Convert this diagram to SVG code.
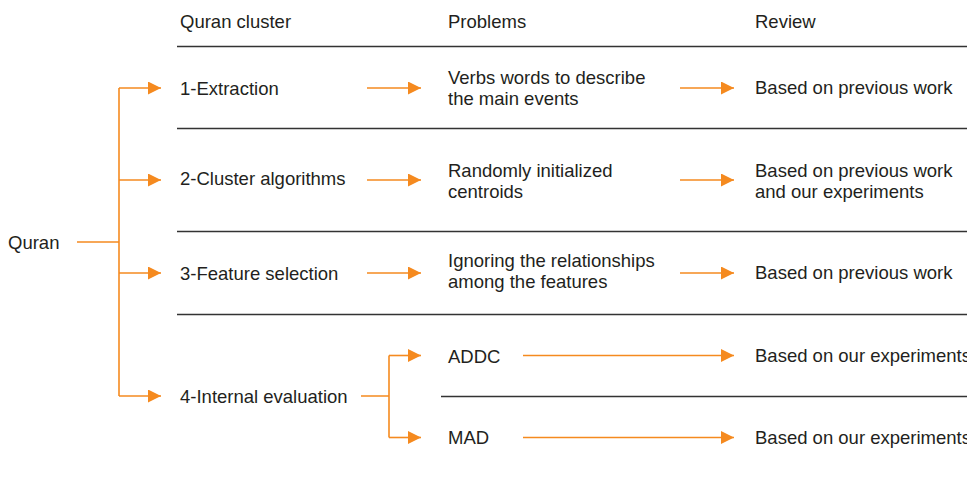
<svg xmlns="http://www.w3.org/2000/svg" width="967" height="477" viewBox="0 0 967 477">
<style>
text{font-family:"Liberation Sans",Arial,sans-serif;font-size:18.5px;fill:#231f20}
.rule{stroke:#333;stroke-width:1.6;fill:none}
.conn{stroke:#f58a1f;stroke-width:1.6;fill:none}
.arr{marker-end:url(#ah)}
</style>
<defs>
<marker id="ah" markerUnits="userSpaceOnUse" markerWidth="14" markerHeight="14" refX="13" refY="6.5" orient="auto">
<path d="M0,0 L13,6.5 L0,13 z" fill="#f58a1f"/>
</marker>
</defs>
<rect width="967" height="477" fill="#fff"/>
<g id="header">
<text x="180" y="28">Quran cluster</text>
<text x="448" y="28">Problems</text>
<text x="755" y="28">Review</text>
</g>
<g id="rules">
<line class="rule" x1="177" y1="46.5" x2="967" y2="46.5"/>
<line class="rule" x1="177" y1="128.5" x2="967" y2="128.5"/>
<line class="rule" x1="177" y1="231.5" x2="967" y2="231.5"/>
<line class="rule" x1="177" y1="314.5" x2="967" y2="314.5"/>
<line class="rule" x1="441" y1="396.5" x2="967" y2="396.5"/>
</g>
<g id="connectors">
<path class="conn" d="M77,242 H119"/>
<path class="conn" d="M119,88 V396"/>
<path class="conn arr" d="M119,88 H161"/>
<path class="conn arr" d="M119,180 H161"/>
<path class="conn arr" d="M119,273 H161"/>
<path class="conn arr" d="M119,396 H161"/>
<path class="conn arr" d="M367,88 H421"/>
<path class="conn arr" d="M367,180 H421"/>
<path class="conn arr" d="M367,273 H421"/>
<path class="conn" d="M361,396 H389 M389,355.5 V437.5"/>
<path class="conn arr" d="M389,355.5 H421"/>
<path class="conn arr" d="M389,437.5 H421"/>
<path class="conn arr" d="M680,88 H734"/>
<path class="conn arr" d="M680,180 H734"/>
<path class="conn arr" d="M680,273 H734"/>
<path class="conn arr" d="M523,355.5 H734"/>
<path class="conn arr" d="M523,437.5 H734"/>
</g>
<g id="quran"><text x="8" y="249">Quran</text></g>
<g id="extraction"><text x="180" y="95">1-Extraction</text></g>
<g id="cluster-algorithms"><text x="180" y="185">2-Cluster algorithms</text></g>
<g id="feature-selection"><text x="180" y="280">3-Feature selection</text></g>
<g id="internal-evaluation"><text x="180" y="403">4-Internal evaluation</text></g>
<g id="problem-1"><text x="448" y="83.5">Verbs words to describe</text><text x="448" y="104.5">the main events</text></g>
<g id="problem-2"><text x="448" y="177">Randomly initialized</text><text x="448" y="197.5">centroids</text></g>
<g id="problem-3"><text x="448" y="266.5">Ignoring the relationships</text><text x="448" y="287.5">among the features</text></g>
<g id="addc"><text x="448" y="362.5">ADDC</text></g>
<g id="mad"><text x="448" y="444">MAD</text></g>
<g id="review-1"><text x="755" y="93.5">Based on previous work</text></g>
<g id="review-2"><text x="755" y="177">Based on previous work</text><text x="755" y="197.5">and our experiments</text></g>
<g id="review-3"><text x="755" y="278.5">Based on previous work</text></g>
<g id="review-4"><text x="755" y="362">Based on our experiments</text></g>
<g id="review-5"><text x="755" y="443.5">Based on our experiments</text></g>
</svg>
